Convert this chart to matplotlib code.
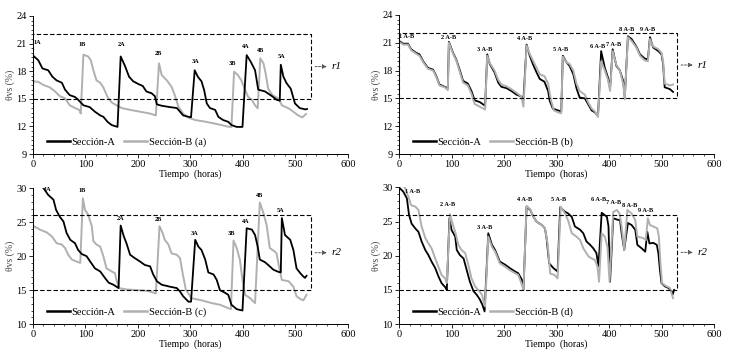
import matplotlib
matplotlib.use("Agg")
import matplotlib.pyplot as plt
from matplotlib.ticker import MultipleLocator

plt.rcParams['font.family'] = ['Liberation Serif', 'DejaVu Serif']

# ---- panel (a) ----
a_tA = [0, 10, 18, 29, 37, 45, 55, 61, 70, 80, 86, 96, 108, 118, 128, 134, 142, 150, 161,
        167, 175, 183, 191, 201, 209, 216, 226, 232, 236, 245, 261, 274, 280, 286, 296, 301,
        308, 314, 321, 326, 331, 337, 347, 353, 362, 372, 378, 388, 399,
        407, 415, 423, 429, 442, 455, 464, 470,
        472, 477, 483, 491, 499, 508, 519, 522]
a_A = [19.7, 19.2, 18.3, 18.1, 17.4, 17.0, 16.75, 16.0, 15.4, 15.2, 14.9, 14.3, 14.1, 13.6, 13.2, 13.05, 12.5, 12.15, 11.95,
       19.6, 18.6, 17.4, 16.9, 16.6, 16.4, 15.8, 15.6, 15.3, 14.4, 14.25, 14.1, 14.0, 13.6, 13.2, 13.05, 13.0,
       18.1, 17.4, 16.9, 15.95, 14.5, 14.0, 13.8, 13.05, 12.7, 12.5, 12.15, 11.95, 11.95,
       19.75, 19.0, 18.1, 16.0, 15.8, 15.3, 14.9, 14.8,
       18.7, 17.4, 16.7, 16.1, 14.5, 14.0, 13.85, 13.9]
a_tB = [0, 10, 20, 32, 42, 51, 61, 70, 80, 88, 91,
        96, 105, 110, 115, 121, 128, 134, 142, 150, 159, 169, 185, 204, 223, 234,
        240, 245, 255, 264, 270, 277, 286, 296, 309, 330, 347, 359, 372, 378,
        383, 390, 397, 404, 410, 416, 423, 428,
        433, 439, 443, 448, 456, 464, 469, 474, 487, 496, 505, 513, 520]
a_B = [16.9, 16.85, 16.5, 16.25, 15.8, 15.3, 15.05, 14.3, 14.0, 13.8, 13.4,
       19.8, 19.6, 19.2, 18.1, 17.0, 16.75, 16.25, 15.2, 14.6, 14.3, 14.0, 13.8, 13.6, 13.4, 13.2,
       18.85, 17.6, 17.0, 16.3, 15.4, 14.15, 13.4, 12.95, 12.7, 12.5, 12.3, 12.15, 11.97, 11.95,
       17.95, 17.6, 17.0, 15.95, 15.2, 14.95, 14.3, 13.96,
       19.4, 18.85, 17.8, 16.1, 15.4, 15.15, 14.9, 14.3, 13.96, 13.6, 13.2, 12.99, 13.35]

# ---- panel (b) ----
b_tA = [0, 8, 17, 23, 33, 39, 46, 55, 65, 71, 77, 87, 93,
        95, 103, 109, 116, 122, 131, 138, 144, 154, 164,
        168, 173, 182, 189, 195, 205, 214, 224, 233, 237,
        243, 249, 255, 262, 268, 277, 284, 287, 293, 303, 309,
        312, 319, 325, 332, 338, 344, 354, 360, 367, 373, 379,
        385, 392, 398, 402,
        407, 414, 420, 427, 430,
        436, 443, 452, 459, 468, 474,
        478, 484, 494, 500, 503, 506, 516, 522]
b_A = [21.2, 20.9, 20.9, 20.3, 19.9, 19.75, 19.0, 18.3, 18.1, 17.4, 16.5, 16.25, 16.1,
       21.1, 19.9, 19.2, 18.0, 16.9, 16.6, 15.8, 14.8, 14.6, 14.2,
       19.75, 18.7, 17.8, 16.7, 16.25, 16.1, 15.8, 15.4, 15.2, 14.9,
       20.8, 19.6, 18.7, 17.8, 17.1, 16.8, 15.8, 14.75, 13.9, 13.7, 13.6,
       19.6, 18.9, 18.5, 17.6, 16.1, 15.1, 15.0, 14.4, 13.7, 13.5, 13.1,
       20.1, 18.3, 17.25, 16.1,
       20.3, 18.5, 18.1, 16.9, 15.1,
       21.7, 21.4, 20.6, 19.75, 19.3, 19.2,
       21.6, 20.5, 20.1, 19.75, 18.7, 16.2, 16.0, 15.7]
b_tB = [0, 8, 17, 23, 33, 39, 46, 55, 65, 71, 77, 87, 93,
        95, 103, 109, 116, 122, 131, 138, 144, 154, 164,
        168, 173, 182, 189, 195, 205, 214, 224, 233, 237,
        243, 249, 255, 262, 268, 277, 284, 289, 295, 303, 309,
        312, 319, 325, 332, 338, 344, 354, 360, 367, 373, 379,
        385, 392, 398, 402,
        407, 414, 420, 427, 430,
        436, 443, 452, 459, 468, 474,
        478, 484, 494, 500, 503, 506, 516, 522]
b_B = [21.1, 20.8, 20.8, 20.2, 19.8, 19.6, 18.9, 18.2, 18.0, 17.3, 16.4, 16.2, 15.9,
       21.0, 19.8, 19.1, 17.8, 16.7, 16.4, 15.5, 14.4, 14.1, 13.8,
       19.6, 18.8, 18.0, 17.0, 16.5, 16.3, 16.0, 15.6, 15.2, 14.1,
       20.7, 19.8, 19.1, 18.3, 17.6, 17.4, 16.6, 14.9, 13.7, 13.5, 13.4,
       19.5, 18.9, 18.7, 18.0, 16.6, 15.8, 15.4, 14.6, 13.9, 13.6, 13.0,
       19.0, 18.0, 17.0, 15.8,
       20.1, 18.6, 18.1, 16.6, 14.9,
       21.6, 21.2, 20.5, 19.6, 19.1, 19.0,
       21.4, 20.6, 20.3, 19.9, 19.0, 16.6, 16.4, 16.5]

# ---- panel (c) ----
c_tA = [0, 10, 20, 29, 39, 44, 51, 58, 64, 71, 80, 86, 93, 102, 109, 118, 128, 137, 144, 153, 161, 163,
        167, 173, 178, 185, 194, 204, 213, 223, 229, 236, 245, 261, 274, 280, 286, 296, 301,
        309, 315, 321, 328, 334, 344, 350, 356, 366, 372, 378, 388, 399,
        407, 417, 423, 428, 432, 442, 448, 458, 467, 472,
        474, 480, 490, 496, 502, 509, 515, 518, 521]
c_A = [31.5, 31.0, 30.0, 29.0, 28.3, 26.8, 25.8, 25.1, 23.4, 22.4, 21.9, 20.9, 20.3, 20.0, 19.2, 18.2, 17.75, 16.8, 16.1, 15.8, 15.4, 15.3,
       24.5, 22.9, 21.9, 20.2, 19.7, 19.2, 18.7, 18.5, 17.3, 16.3, 15.8, 15.5, 15.3, 14.8, 14.1, 13.3, 13.3,
       22.4, 21.4, 20.9, 19.5, 17.6, 17.3, 16.5, 15.0, 14.6, 14.3, 12.85, 12.2, 12.0,
       24.1, 23.9, 23.1, 21.4, 19.5, 19.1, 18.7, 18.0, 17.7, 17.6,
       25.6, 23.1, 22.4, 20.9, 18.2, 17.5, 17.0, 16.8, 17.1]
c_tB = [0, 13, 26, 36, 45, 55, 61, 67, 74, 83, 90,
        95, 99, 105, 112, 115, 121, 128, 134, 140, 150, 156, 159, 164, 178, 197, 217, 229, 234,
        241, 247, 251, 258, 264, 274, 280, 285, 291, 302, 321, 340, 356, 372, 377,
        382, 388, 394, 399, 404, 414, 420, 423,
        432, 439, 445, 451, 460, 464, 468, 474, 487, 496, 502, 509, 515, 521]
c_B = [24.5, 23.9, 23.5, 22.9, 21.9, 21.7, 21.2, 20.2, 19.5, 19.2, 19.0,
       28.5, 26.8, 26.1, 24.4, 22.2, 21.7, 21.4, 20.0, 18.2, 17.75, 17.5, 16.5, 15.3, 15.1, 15.0, 14.9, 14.65, 14.5,
       24.4, 23.4, 22.4, 21.7, 20.4, 20.2, 19.7, 17.5, 15.1, 13.8, 13.5, 13.1, 12.85, 12.35, 12.2,
       22.3, 21.2, 19.5, 16.5, 14.3, 13.8, 13.3, 13.1,
       27.9, 26.3, 24.6, 21.2, 20.7, 20.4, 18.7, 16.5, 16.3, 15.5, 14.1, 13.7, 13.5, 14.3]

# ---- panel (d) ----
d_tA = [0, 8, 15, 19, 24, 31, 37, 43, 50, 56, 62, 69, 75, 81, 88, 91,
        96, 100, 107, 110, 116, 123, 129, 135, 142, 148, 154, 159, 163,
        170, 177, 183, 192, 202, 211, 221, 227, 234, 237,
        243, 250, 256, 262, 272, 278, 281, 286, 294, 302,
        307, 316, 322, 329, 335, 345, 351, 357, 364, 370, 376, 380,
        386, 391, 396, 399, 402,
        408, 415, 421, 424, 429, 432,
        436, 443, 450, 454, 462, 469,
        473, 477, 484, 491, 494, 497, 500, 507, 513, 519, 521, 524]
d_A = [30.0, 29.4, 28.4, 26.0, 24.7, 24.0, 23.5, 22.1, 20.85, 20.1, 19.15, 18.2, 17.0, 16.0, 15.4, 15.0,
       25.5, 23.8, 22.8, 20.85, 20.1, 19.6, 17.9, 16.2, 14.8, 14.3, 13.6, 12.8, 11.85,
       23.3, 21.6, 20.85, 19.15, 18.7, 18.2, 17.7, 17.45, 16.5, 15.0,
       27.2, 26.7, 25.7, 25.0, 24.5, 24.0, 22.6, 18.9, 18.2, 17.7,
       27.1, 26.45, 26.2, 25.7, 24.3, 23.8, 23.3, 22.1, 21.6, 21.1, 20.4, 18.5,
       26.3, 26.0, 25.7, 24.3, 16.2,
       25.5, 25.3, 25.2, 23.3, 20.85, 22.6,
       24.8, 24.5, 23.8, 21.6, 21.1, 20.6,
       23.5, 21.8, 21.9, 21.6, 20.4, 17.9, 16.0, 15.5, 15.3, 14.8, 14.3, 15.0]
d_tB = [0, 11, 18, 23, 31, 37, 43, 50, 56, 62, 69, 75, 81, 88, 91,
        97, 102, 107, 113, 119, 126, 132, 138, 145, 151, 158, 161, 164,
        170, 177, 183, 192, 202, 211, 221, 227, 232, 237,
        243, 250, 256, 262, 272, 278, 283, 288, 296, 302,
        308, 316, 322, 329, 338, 345, 351, 361, 367, 373, 378, 381,
        386, 392, 397, 401,
        408, 415, 420, 424, 429,
        435, 443, 450, 454, 465, 470,
        474, 478, 484, 492, 495, 498, 501, 508, 516, 519, 522]
d_B = [31.0, 30.0, 28.6, 27.4, 27.2, 26.7, 24.3, 22.6, 21.8, 21.1, 19.6, 18.4, 17.2, 16.7, 16.0,
       26.1, 24.7, 23.5, 21.6, 20.85, 20.4, 18.7, 16.7, 15.5, 15.0, 14.3, 13.3, 12.6,
       22.8, 21.3, 20.6, 18.9, 18.4, 17.9, 17.45, 17.2, 16.2, 15.0,
       27.3, 26.8, 25.7, 25.0, 24.5, 24.0, 21.8, 17.4, 17.2, 16.7,
       27.2, 26.2, 25.2, 23.3, 22.8, 22.3, 21.1, 19.9, 19.6, 19.4, 18.4, 16.2,
       23.3, 22.8, 21.3, 16.2,
       26.4, 26.7, 26.2, 24.3, 20.85,
       26.7, 26.2, 25.2, 22.8, 22.6, 22.3,
       25.5, 24.5, 24.3, 24.0, 22.8, 18.9, 16.0, 15.6, 15.3, 14.5, 13.8]

# peak labels (text, hour, value)
a_labels = [("1A", 9, 20.9), ("1B", 93, 20.6), ("2A", 168, 20.6), ("2B", 238, 19.7),
            ("3A", 309, 18.8), ("3B", 379, 18.6), ("4A", 406, 20.4), ("4B", 433, 20.0), ("5A", 474, 19.3)]
b_labels = [("1 A-B", 15, 21.35), ("2 A-B", 94, 21.3), ("3 A-B", 164, 20.0), ("4 A-B", 240, 21.2),
            ("5 A-B", 308, 20.0), ("6 A-B", 378, 20.3), ("7 A-B", 408, 20.5), ("8 A-B", 434, 22.2), ("9 A-B", 474, 22.2)]
c_labels = [("1A", 28, 29.5), ("1B", 93, 29.3), ("2A", 166, 25.1), ("2B", 239, 25.0),
            ("3A", 307, 23.0), ("3B", 378, 22.9), ("4A", 405, 24.7), ("4B", 431, 28.6), ("5A", 472, 26.3)]
d_labels = [("1 A-B", 26, 29.0), ("2 A-B", 92, 27.2), ("3 A-B", 164, 23.8), ("4 A-B", 240, 27.9),
            ("5 A-B", 304, 27.8), ("6 A-B", 380, 27.8), ("7 A-B", 408, 27.4), ("8 A-B", 440, 27.0), ("9 A-B", 470, 26.3)]

panels = [
    ([0.0452, 0.566, 0.4315, 0.389], a_tA, a_A, a_tB, a_B, "(a)", (9, 24), 3, 0.5, (15, 22), 18.5, "r1", a_labels),
    ([0.5466, 0.566, 0.4315, 0.392], b_tA, b_A, b_tB, b_B, "(b)", (9, 24), 3, 0.5, (15, 22), 18.6, "r1", b_labels),
    ([0.0452, 0.087, 0.4315, 0.383], c_tA, c_A, c_tB, c_B, "(c)", (10, 30), 5, 1, (15, 26), 20.5, "r2", c_labels),
    ([0.5466, 0.087, 0.4315, 0.385], d_tA, d_A, d_tB, d_B, "(d)", (10, 30), 5, 1, (15, 26), 20.5, "r2", d_labels),
]

fig = plt.figure(figsize=(7.3, 3.55), dpi=100)

for pos, tA, vA, tB, vB, tag, ylim, ystep, yminor, box, arr_y, rname, labels in panels:
    ax = fig.add_axes(pos)
    ax.plot(tB, vB, color='#b0b0b0', lw=1.4, label='Sección-B ' + tag, zorder=2)
    ax.plot(tA, vA, color='black', lw=1.3, label='Sección-A', zorder=3)
    if tag in ("(b)", "(d)"):
        # in (b) and (d) the gray curve is drawn over the black one
        ax.lines[0].set_zorder(4)
    ax.set_xlim(0, 600)
    ax.set_ylim(*ylim)
    ax.set_xticks(range(0, 601, 100))
    ax.set_yticks(range(ylim[0], ylim[1] + 1, ystep))
    ax.xaxis.set_minor_locator(MultipleLocator(20))
    ax.yaxis.set_minor_locator(MultipleLocator(yminor))
    ax.tick_params(labelsize=7.5, length=3, width=0.6, pad=1.5)
    ax.tick_params(which='minor', length=1.5, width=0.5)
    for s in ('top', 'right'):
        ax.spines[s].set_visible(False)
    for s in ('left', 'bottom'):
        ax.spines[s].set_linewidth(0.7)
    ax.set_xlabel('Tiempo  (horas)', fontsize=7, labelpad=0)
    ax.set_ylabel('θvs (%)', fontsize=7, labelpad=1, color='#444444')

    # dashed region box
    x0, x1 = 0, 529
    ax.plot([x0, x1, x1, x0, x0], [box[0], box[0], box[1], box[1], box[0]],
            color='black', lw=0.8, ls=(0, (4, 2)), zorder=5, clip_on=False)
    ax.annotate('', xy=(565, arr_y), xytext=(532, arr_y),
                arrowprops=dict(arrowstyle='-|>', color='#555555', lw=0.7,
                                ls=(0, (2, 1.5)), mutation_scale=6))
    ax.text(569, arr_y, rname, fontsize=8, style='italic', va='center', ha='left')

    for txt, x, y in labels:
        ax.text(x, y, txt, fontsize=4.5, fontweight='bold', ha='center', va='bottom', zorder=6)

    handles, labs = ax.get_legend_handles_labels()
    leg = ax.legend(handles[::-1], labs[::-1], loc='lower left', bbox_to_anchor=(0.02, 0.0),
                    ncol=2, frameon=False, fontsize=7.5, handlelength=2.2, handletextpad=0.2,
                    columnspacing=0.8, borderaxespad=0.3)
    for line in leg.get_lines():
        line.set_linewidth(1.8)

fig.savefig('out.png', dpi=100)
